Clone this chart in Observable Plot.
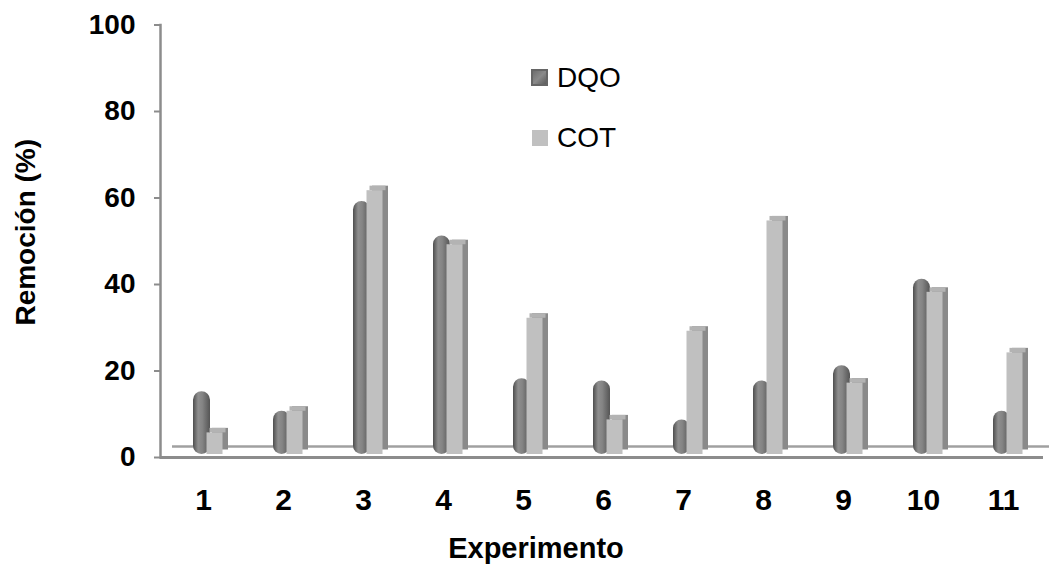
<!DOCTYPE html>
<html><head><meta charset="utf-8">
<script src="https://cdn.jsdelivr.net/npm/d3@7"></script>
<script src="https://cdn.jsdelivr.net/npm/@observablehq/plot@0.6"></script>
<style>
body{margin:0;background:#fff;font-family:"Liberation Sans",Arial,sans-serif;}
#wrap{position:relative;width:1049px;height:564px;}
.leg{position:absolute;font-size:28px;line-height:28px;color:#000;white-space:nowrap;}
.sw{position:absolute;box-sizing:border-box;}
</style></head><body><div id="wrap"></div>
<script>
const experiments = ["1","2","3","4","5","6","7","8","9","10","11"];
const dqo = [14.5, 10, 58.5, 50.5, 17.5, 17, 8, 17, 20.5, 40.5, 10];
const cot = [5, 10, 61, 48.5, 31.5, 8, 28.5, 54, 16.5, 37.5, 23.5];
const yTicks = [0, 20, 40, 60, 80, 100];
const seriesNames = ["DQO", "COT"];
const seriesColors = ["#7a7a7a", "#c0c0c0"];
const xTitle = "Experimento";
const yTitle = "Remoción (%)";

const rows = experiments.map((e, i) => ({exp: e, dqo: dqo[i], cot: cot[i]}));

const defs = () => {
  const s = d3.create("svg:defs");
  const g = s.append("linearGradient").attr("id", "cyl")
    .attr("x1", 0).attr("x2", 1).attr("y1", 0).attr("y2", 0);
  [[0, "#4e4e4e"], [0.3, "#8f8f8f"], [0.55, "#848484"], [1, "#555555"]]
    .forEach(([o, c]) => g.append("stop").attr("offset", o).attr("stop-color", c));
  return s.node();
};

const font = '"Liberation Sans", Arial, sans-serif';

const plot = Plot.plot({
  width: 1049, height: 564,
  marginLeft: 160, marginRight: 6, marginTop: 24.5, marginBottom: 107,
  style: {fontFamily: font, fontSize: "28px", background: "white", color: "black", overflow: "visible"},
  x: {domain: experiments, range: [163, 1043], padding: 0},
  y: {domain: [0, 100]},
  marks: [
    defs,
    Plot.ruleY([0], {dx: 12, dy: -11, stroke: "#a0a0a0", strokeWidth: 2.5}),
    Plot.frame({anchor: "left", stroke: "#8c8c8c", strokeWidth: 2.5}),
    Plot.ruleY([0], {stroke: "#8c8c8c", strokeWidth: 3}),
    Plot.barY(rows, {x: "exp", y: "dqo", insetLeft: 31.5, insetRight: 31.5, dx: -1.5, dy: -3, rx: 8.5, fill: "url(#cyl)"}),
    Plot.barY(rows, {x: "exp", y: "cot", insetLeft: 32, insetRight: 32, dx: 17, dy: -7.5, fill: "#8a8a8a"}),
    Plot.barY(rows, {x: "exp", y1: "cot", y2: "cot", insetTop: -4.5, insetLeft: 32, insetRight: 32, dx: 14.5, dy: -3, fill: "#b3b3b3"}),
    Plot.barY(rows, {x: "exp", y: "cot", insetLeft: 32, insetRight: 32, dx: 11.5, dy: -3, fill: "#c0c0c0"}),
    Plot.axisY({ticks: yTicks, tickSize: 6, tickPadding: 19, stroke: "#8c8c8c", strokeWidth: 2, fill: "black", fontSize: 28, fontWeight: "bold", label: null}),
    Plot.axisX({tickSize: 0, tickPadding: 31, fill: "black", fontSize: 30, fontWeight: "bold", label: null}),
    Plot.text([yTitle], {text: d => d, frameAnchor: "left", textAnchor: "middle", lineAnchor: "middle", dx: -134, dy: -9, rotate: -90, fontSize: 28, fontWeight: "bold", fill: "black"}),
    Plot.text([xTitle], {text: d => d, frameAnchor: "bottom", textAnchor: "middle", lineAnchor: "bottom", dx: -66, dy: 100, fontSize: 29, fontWeight: "bold", fill: "black"})
  ]
});

const wrap = document.getElementById("wrap");
wrap.appendChild(plot);

// legend
const legPos = [{sx: 531, sy: 69, ss: 17, tx: 557, ty: 64}, {sx: 532, sy: 130, ss: 16, tx: 557, ty: 124}];
seriesNames.forEach((name, i) => {
  const p = legPos[i];
  const sw = document.createElement("div");
  sw.className = "sw";
  sw.style.left = p.sx + "px"; sw.style.top = p.sy + "px";
  sw.style.width = p.ss + "px"; sw.style.height = p.ss + "px";
  if (i === 0) {
    sw.style.background = "linear-gradient(135deg, #6e6e6e 0%, #8a8a8a 50%, #5c5c5c 100%)";
    sw.style.border = "2px solid #666";
  } else {
    sw.style.background = seriesColors[i];
  }
  wrap.appendChild(sw);
  const t = document.createElement("div");
  t.className = "leg";
  t.style.left = p.tx + "px"; t.style.top = p.ty + "px";
  t.textContent = name;
  wrap.appendChild(t);
});
</script></body></html>
